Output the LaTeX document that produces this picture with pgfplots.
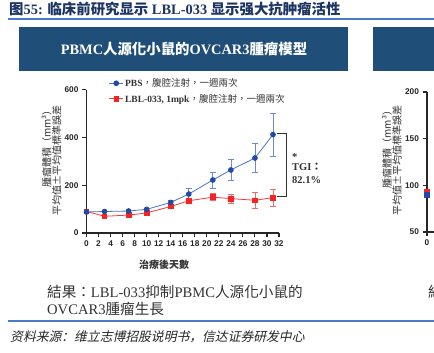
\documentclass[border=0pt]{standalone}
\usepackage{fontspec}
\usepackage{pgfplots}
\pgfplotsset{compat=1.18}
\setmainfont{Liberation Serif}
\newfontfamily\tc{Noto Sans CJK TC}
\newfontfamily\scf{Noto Sans CJK SC}
\newfontfamily\scit{Noto Sans CJK SC}[FakeSlant=0.22]
\newfontfamily\arial{Liberation Sans}
\definecolor{navy}{HTML}{1C3563}
\definecolor{boxblue}{HTML}{1F4E79}
\definecolor{rule}{HTML}{4A7BC8}
\definecolor{lblue}{HTML}{4E74C6}
\definecolor{mblue}{HTML}{2349A6}
\definecolor{eblue}{HTML}{6A8AD2}
\definecolor{lred}{HTML}{F43B3B}
\definecolor{mred}{HTML}{F42424}
\definecolor{ered}{HTML}{F26A6A}
\definecolor{txt}{HTML}{333333}

\pgfplotsset{
  mystyle/.style={
    scale only axis, anchor=south west,
    xmin=0, xmax=32,
    axis lines*=left,
    axis line style={line width=1.1pt, black!85},
    xtick={0,2,...,32},
    tick align=outside, major tick length=4.5pt,
    tick style={line width=1.1pt, black!85},
    ticklabel style={font=\arial\bfseries\fontsize{8.3}{9}\selectfont, text=black!85},
    /pgf/number format/assume math mode=true,
    clip=false,
  },
  bser/.style={color=lblue, line width=0.8pt, mark=*, mark size=2.4pt,
    mark options={fill=mblue, draw=mblue, solid}},
  rser/.style={color=lred, line width=0.8pt, mark=square*, mark size=2.3pt,
    mark options={fill=mred, draw=mred, solid}},
}

\pgfplotstableread{
x y e
0 88 4
3 90 4
7 92 5
10 99 5
14 128 9
17 163 22
21 222 34
24 264 43
28 314 61
31 412 90
}\pbs
\pgfplotstableread{
x y e
0 90 5
3 70 6
7 75 6
10 84 5
14 111 7
17 135 8
21 150 14
24 144 18
28 137 33
31 148 35
}\lbl

\begin{document}
\begin{tikzpicture}
\useasboundingbox (0,0) rectangle (434pt,353pt);
\fill[white] (0,0) rectangle (434pt,353pt);
\clip (0,0) rectangle (434pt,353pt);

% title
\node[anchor=west, inner sep=0pt, text=navy, font=\fontsize{14.4}{15}\selectfont] at (9pt,344pt)
  {{\scf\bfseries 图}{\bfseries 55:} {\scf\bfseries 临床前研究显示} {\bfseries LBL-033} {\scf\bfseries 显示强大抗肿瘤活性}};
\draw[rule, line width=1.4pt] (8pt,334pt) -- (434pt,334pt);

% header boxes
\fill[boxblue] (19pt,282pt) rectangle (348pt,326pt);
\node[text=white, font=\fontsize{14.4}{15}\selectfont] at (184pt,304pt)
  {{\bfseries PBMC}{\tc\bfseries 人源化小鼠的}{\bfseries OVCAR3}{\tc\bfseries 腫瘤模型}};
\fill[boxblue] (373pt,282pt) rectangle (440pt,326pt);

% left axis
\begin{axis}[mystyle,
  at={(86.5pt,120pt)}, width=192.5pt, height=143.3pt,
  ymin=0, ymax=600, ytick={0,200,400,600},
  legend style={at={(axis description cs:0.115,1.09)}, anchor=north west,
    draw=none, fill=none, font=\fontsize{9.5}{10}\selectfont, text=black!80,
    row sep=3pt, inner sep=0pt, nodes={inner sep=1.5pt}},
  legend cell align=left, reverse legend,
  legend image code/.code={\draw[#1,mark repeat=2,mark phase=2] plot coordinates {(0pt,0pt) (7pt,0pt) (14pt,0pt)};},
]
\addplot[rser, error bars/.cd, y dir=both, y explicit,
  error bar style={ered, line width=0.7pt, solid},
  error mark options={rotate=90, mark size=2.8pt, ered, line width=0.7pt}]
  table[x=x, y=y, y error=e] {\lbl};
\addlegendentry{{\bfseries LBL-033, 1mpk}{\tc ，腹腔注射，一週兩次}}
\addplot[bser, error bars/.cd, y dir=both, y explicit,
  error bar style={eblue, line width=0.7pt, solid},
  error mark options={rotate=90, mark size=2.8pt, eblue, line width=0.7pt}]
  table[x=x, y=y, y error=e] {\pbs};
\addlegendentry{{\bfseries PBS}{\tc ，腹腔注射，一週兩次}}
\draw[line width=0.9pt, black!80] (axis cs:31.7,416) -- (axis cs:33.3,416) -- (axis cs:33.3,152) -- (axis cs:31.7,152);
\end{axis}

% TGI annotation
\node[anchor=west, inner sep=0pt, font=\bfseries\fontsize{10.5}{11}\selectfont, text=txt] at (292pt,196pt) {*};
\node[anchor=west, inner sep=0pt, font=\bfseries\fontsize{10.5}{11}\selectfont, text=txt] at (292pt,186pt) {TGI{\tc ：}};
\node[anchor=west, inner sep=0pt, font=\bfseries\fontsize{10.5}{11}\selectfont, text=txt] at (292pt,172.5pt) {82.1\%};

% y labels left
\node[rotate=90, inner sep=0pt, text=txt, font=\tc\fontsize{10}{10}\selectfont] at (46.7pt,206.5pt) {腫瘤體積（mm³）};
\node[rotate=90, inner sep=0pt, text=txt, font=\tc\fontsize{10}{10}\selectfont] at (56.7pt,192pt) {平均值±平均值標準誤差};

% x label
\node[text=txt, font=\tc\bfseries\fontsize{10}{11}\selectfont] at (164pt,88pt) {治療後天數};

% results
\node[anchor=west, inner sep=0pt, text=txt, font=\fontsize{14.6}{15}\selectfont] at (47pt,61pt)
  {{\tc 結果：}LBL-033{\tc 抑制}PBMC{\tc 人源化小鼠的}};
\node[anchor=west, inner sep=0pt, text=txt, font=\fontsize{14.6}{15}\selectfont] at (47pt,44pt)
  {OVCAR3{\tc 腫瘤生長}};

% right partial panel
\begin{axis}[mystyle,
  at={(427pt,121pt)}, width=192.5pt, height=140pt,
  ymin=50, ymax=200, ytick={50,100,150,200}, xtick={0},
]
\addplot[rser] coordinates {(0,93)};
\addplot[bser, mark=square*] coordinates {(0,90)};
\end{axis}
\node[rotate=90, inner sep=0pt, text=txt, font=\tc\fontsize{10}{10}\selectfont] at (387pt,206pt) {腫瘤體積（mm³）};
\node[rotate=90, inner sep=0pt, text=txt, font=\tc\fontsize{10}{10}\selectfont] at (397pt,192pt) {平均值±平均值標準誤差};
\node[anchor=west, inner sep=0pt, text=txt, font=\fontsize{14.6}{15}\selectfont] at (428pt,61pt) {\tc 結};

% bottom rule and source
\draw[rule, line width=1.3pt] (8pt,32pt) -- (434pt,32pt);
\node[anchor=west, inner sep=0pt, text=black!85, font=\scit\fontsize{12.8}{13}\selectfont] at (10pt,16pt)
  {资料来源：维立志博招股说明书，信达证券研发中心};
\end{tikzpicture}
\end{document}
